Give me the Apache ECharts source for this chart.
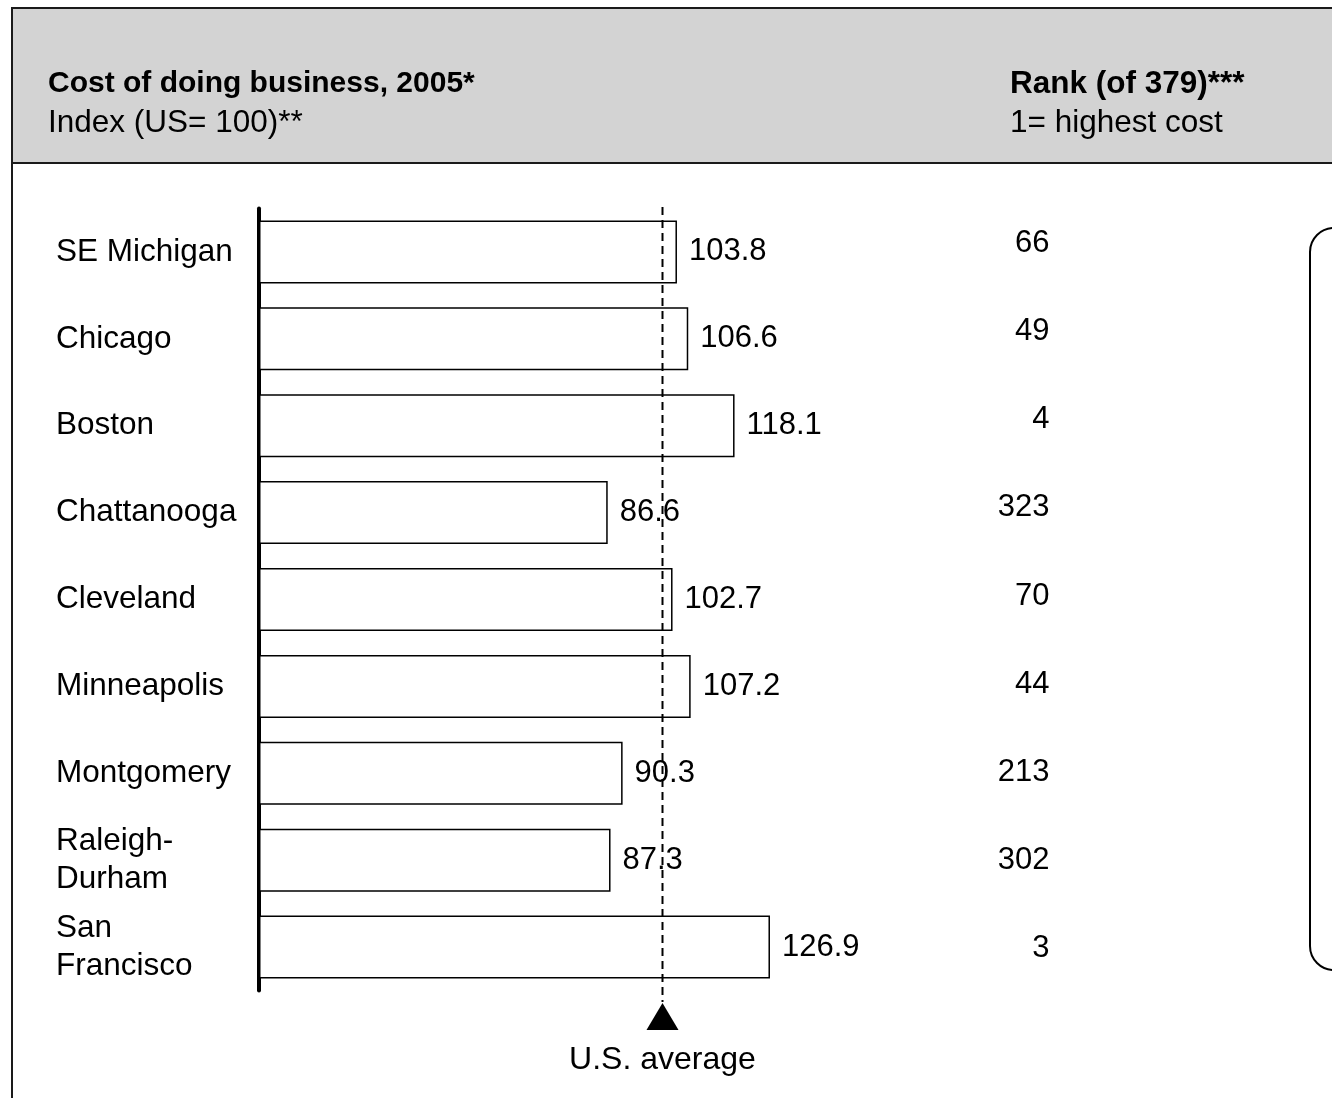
<!DOCTYPE html>
<html>
<head>
<meta charset="utf-8">
<script src="https://cdn.jsdelivr.net/npm/echarts@6/dist/echarts.min.js"></script>
<style>
  html, body { margin: 0; padding: 0; background: #fff; }
  #main { width: 1332px; height: 1098px; }
</style>
</head>
<body>
<div id="main"></div>
<script>
// data
var cities = ['SE Michigan', 'Chicago', 'Boston', 'Chattanooga', 'Cleveland',
              'Minneapolis', 'Montgomery', 'Raleigh-\nDurham', 'San\nFrancisco'];
var costIndex = [103.8, 106.6, 118.1, 86.6, 102.7, 107.2, 90.3, 87.3, 126.9];
var ranks = [66, 49, 4, 323, 70, 44, 213, 302, 3];
var usAverage = 100;

var FONT = 'Liberation Sans, Arial, Helvetica, sans-serif';

var myChart = echarts.init(document.getElementById('main'));

var option = {
    animation: false,
    textStyle: { fontFamily: FONT },
    graphic: [
        // gray header band with frame
        { id: 'band', type: 'rect', z: -10, shape: { x: 12, y: 8, width: 1340, height: 155 },
          style: { fill: '#d3d3d3', stroke: '#1a1a1a', lineWidth: 2 } },
        { id: 'leftLine', type: 'line', z: -10, shape: { x1: 12, y1: 163, x2: 12, y2: 1100 },
          style: { stroke: '#1a1a1a', lineWidth: 2 } },
        // rounded box at right
        { id: 'box', type: 'rect', z: -10, shape: { x: 1310, y: 228, width: 80, height: 742, r: 24 },
          style: { fill: '#fff', stroke: '#000', lineWidth: 2 } },
        { id: 't1', type: 'text', x: 48, y: 84,
          style: { text: 'Cost of doing business, 2005*', font: 'bold 30px ' + FONT, fill: '#000', verticalAlign: 'middle' } },
        { id: 't2', type: 'text', x: 48, y: 123,
          style: { text: 'Index (US= 100)**', font: '31.5px ' + FONT, fill: '#000', verticalAlign: 'middle' } },
        { id: 't3', type: 'text', x: 1010, y: 84,
          style: { text: 'Rank (of 379)***', font: 'bold 31.5px ' + FONT, fill: '#000', verticalAlign: 'middle' } },
        { id: 't4', type: 'text', x: 1010, y: 123,
          style: { text: '1= highest cost', font: '31.5px ' + FONT, fill: '#000', verticalAlign: 'middle' } }
    ],
    grid: [
        { left: 259, top: 208.5, width: 604, height: 782 },
        { left: 1050, top: 199, width: 100, height: 794 }
    ],
    xAxis: [
        { gridIndex: 0, type: 'value', min: 0, max: 150, show: false },
        { gridIndex: 1, type: 'value', min: 0, max: 1, show: false }
    ],
    yAxis: [
        {
            gridIndex: 0, type: 'category', data: cities, inverse: true,
            axisLine: { show: true, lineStyle: { color: '#000', width: 4, cap: 'round' } },
            axisTick: { show: false },
            axisLabel: {
                align: 'left', margin: 203, fontSize: 31.5, color: '#000',
                lineHeight: 38, fontFamily: FONT, padding: [10, 0, 0, 0]
            }
        },
        { gridIndex: 1, type: 'category', data: cities, inverse: true, show: false }
    ],
    series: [
        {
            type: 'bar',
            xAxisIndex: 0, yAxisIndex: 0,
            data: costIndex,
            barWidth: 63,
            itemStyle: { color: '#fff', borderColor: '#000', borderWidth: 1.5 },
            label: {
                show: true, position: 'right', distance: 12,
                fontSize: 31, color: '#000', fontFamily: FONT,
                formatter: function (p) { return p.value.toFixed(1); }
            }
        },
        {
            type: 'scatter',
            xAxisIndex: 1, yAxisIndex: 1,
            data: cities.map(function (c, i) { return [0, c, ranks[i]]; }),
            symbolSize: 1,
            itemStyle: { color: 'transparent', opacity: 1 },
            label: {
                show: true, position: 'left', distance: 0, opacity: 1,
                fontSize: 31, color: '#000', fontFamily: FONT,
                formatter: function (p) { return String(p.data[2]); }
            }
        }
    ]
};
myChart.setOption(option);

// U.S. average marker, positioned through the value axis
var avgX = Math.round(myChart.convertToPixel({ gridIndex: 0 }, [usAverage, cities[0]])[0]) + 0.5;
myChart.setOption({
    graphic: [
        { id: 'avgLine', type: 'line', z: 100, shape: { x1: avgX, y1: 207, x2: avgX, y2: 1002 },
          style: { stroke: '#000', lineWidth: 2, lineDash: [8, 5] } },
        { id: 'avgTri', type: 'polygon', z: 100,
          shape: { points: [[avgX, 1003], [avgX - 16, 1030], [avgX + 16, 1030]] },
          style: { fill: '#000' } },
        { id: 'avgText', type: 'text', x: avgX, y: 1060,
          style: { text: 'U.S. average', font: '32px ' + FONT, fill: '#000', align: 'center', verticalAlign: 'middle' } }
    ]
});
</script>
</body>
</html>
